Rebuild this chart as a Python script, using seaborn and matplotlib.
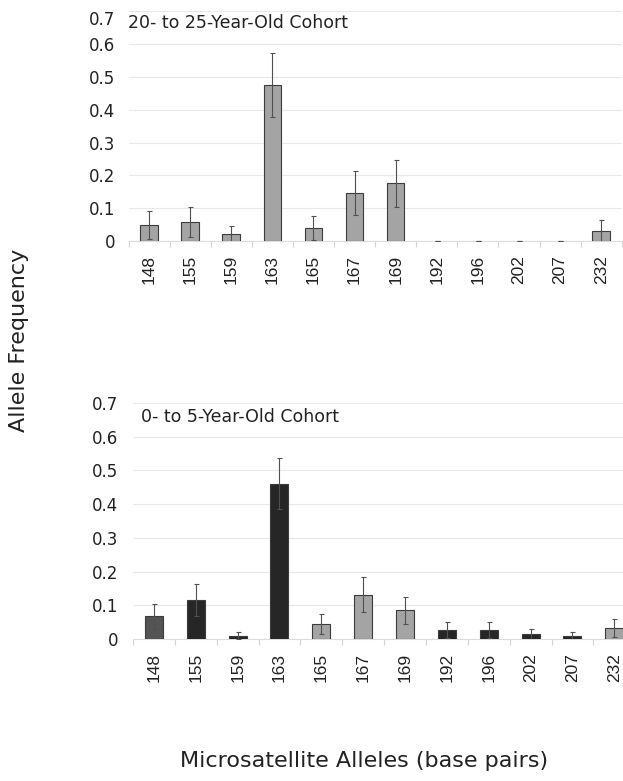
import matplotlib
matplotlib.use("Agg")
import matplotlib.pyplot as plt
from matplotlib.transforms import ScaledTranslation
import seaborn as sns
import numpy as np
import pandas as pd

# ---- data ----
alleles = ["148", "155", "159", "163", "165", "167", "169", "192", "196", "202", "207", "232"]

adult_freq = [0.049, 0.059, 0.020, 0.476, 0.039, 0.147, 0.176, 0.0, 0.0, 0.0, 0.0, 0.030]
adult_err = [0.042, 0.046, 0.026, 0.097, 0.037, 0.067, 0.072, 0.0, 0.0, 0.0, 0.0, 0.033]

young_freq = [0.067, 0.115, 0.010, 0.461, 0.044, 0.131, 0.085, 0.026, 0.026, 0.014, 0.008, 0.032]
young_err = [0.038, 0.047, 0.010, 0.076, 0.030, 0.052, 0.041, 0.023, 0.023, 0.017, 0.012, 0.026]

adult_title = "20- to 25-Year-Old Cohort"
young_title = "0- to 5-Year-Old Cohort"
y_ticks = [0, 0.1, 0.2, 0.3, 0.4, 0.5, 0.6, 0.7]
y_tick_labels = ["0", "0.1", "0.2", "0.3", "0.4", "0.5", "0.6", "0.7"]

LIGHT = "#a4a4a4"
DARK = "#262626"
MID = "#545454"
young_colors = [MID, DARK, DARK, DARK, LIGHT, LIGHT, LIGHT, DARK, DARK, DARK, DARK, LIGHT]

# ---- style ----
sns.set_theme(style="white")
plt.rcParams["font.family"] = ["DejaVu Sans"]
TXT = "#222222"

W, H = 623, 781
fig = plt.figure(figsize=(W / 100, H / 100), dpi=100)


def px_axes(left, top, right, bottom):
    return fig.add_axes([left / W, 1 - bottom / H, (right - left) / W, (bottom - top) / H])


def draw_panel(ax, freqs, errs, colors, ypad):
    df = pd.DataFrame({"allele": alleles, "freq": freqs})
    sns.barplot(data=df, x="allele", y="freq", hue="allele", palette=dict(zip(alleles, colors)),
                order=alleles, width=0.43, edgecolor="#3c3c3c", linewidth=0.8,
                legend=False, ax=ax, zorder=3)
    for p, v in zip(ax.patches, freqs):
        if v == 0:
            p.set_linewidth(0)
    ax.errorbar(np.arange(len(alleles)), freqs, yerr=errs, fmt="none", ecolor="#505050",
                elinewidth=0.8, capsize=1.8, capthick=0.8, zorder=4)
    ax.set_ylim(0, 0.7)
    ax.set_xlim(-0.5, 11.5)
    ax.set_yticks(y_ticks)
    ax.set_yticklabels(y_tick_labels)
    ax.yaxis.grid(True, color="#e8e8e8", linewidth=0.8, zorder=0)
    ax.xaxis.grid(False)
    ax.set_axisbelow(True)
    for s in ["left", "right", "top"]:
        ax.spines[s].set_visible(False)
    ax.spines["bottom"].set_color("#dcdcdc")
    ax.spines["bottom"].set_linewidth(0.8)
    ax.set_xlabel("")
    ax.set_ylabel("")
    ax.tick_params(axis="y", length=0, pad=ypad, labelsize=12, labelcolor=TXT)
    ax.tick_params(axis="x", which="major", length=0, pad=10, labelsize=12.5,
                   labelcolor=TXT, labelrotation=90)
    for lab in ax.get_xticklabels():
        lab.set_fontfamily(["Liberation Sans", "DejaVu Sans"])
    ax.set_xticks(np.arange(len(alleles) + 1) - 0.5, minor=True)
    ax.tick_params(axis="x", which="minor", length=4, width=0.8, color="#d4d4d4",
                   direction="out", bottom=True)


# top panel
ax1 = px_axes(128.5, 11.4, 621.7, 241)
draw_panel(ax1, adult_freq, adult_err, [LIGHT] * len(alleles), 9.4)
ax1.text(-0.5, 0.649, adult_title, fontsize=12.5, color=TXT, ha="left", va="baseline")
lab07 = ax1.get_yticklabels()[-1]
lab07.set_transform(lab07.get_transform() + ScaledTranslation(0, -0.07, fig.dpi_scale_trans))

# bottom panel
ax2 = px_axes(133, 403, 635.2, 639)
draw_panel(ax2, young_freq, young_err, young_colors, 10.8)
ax2.text(-0.5 + 8 / 41.8, (639 - 421.7) / 337.0, young_title, fontsize=12.5, color=TXT,
         ha="left", va="baseline")

fig.text(19 / W, 1 - 432 / H, "Allele Frequency", rotation=90, ha="center", va="bottom",
         fontsize=16, color=TXT)
fig.text(180 / W, 1 - 767 / H, "Microsatellite Alleles (base pairs)", ha="left", va="baseline",
         fontsize=16, color=TXT)

fig.savefig("out.png", dpi=100)
